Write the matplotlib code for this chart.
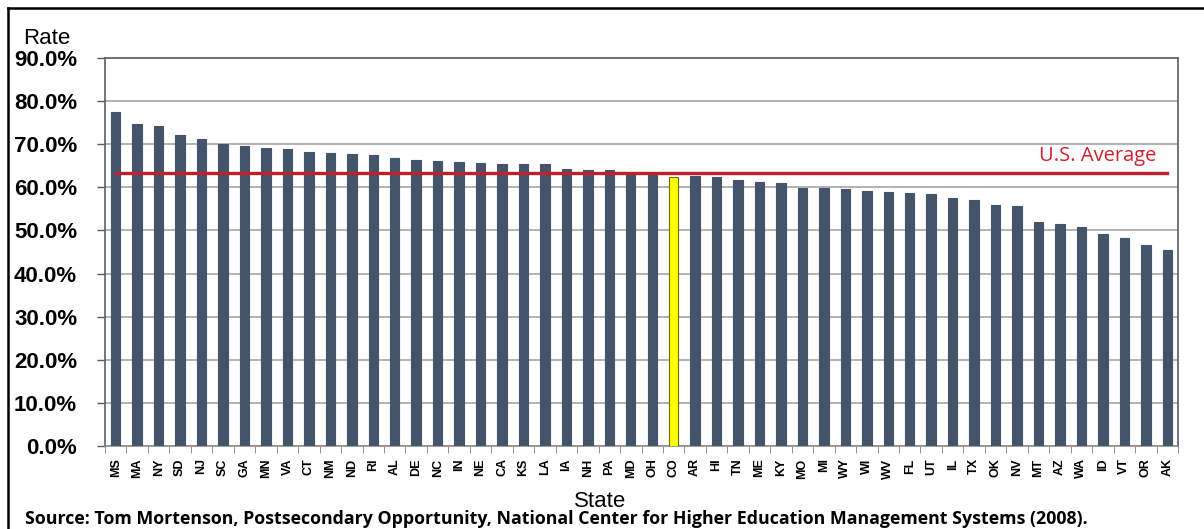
import matplotlib
matplotlib.use("Agg")
import matplotlib.pyplot as plt
from matplotlib.lines import Line2D
from matplotlib.ticker import FixedLocator, PercentFormatter

states = ["MS", "MA", "NY", "SD", "NJ", "SC", "GA", "MN", "VA", "CT", "NM", "ND", "RI",
          "AL", "DE", "NC", "IN", "NE", "CA", "KS", "LA", "IA", "NH", "PA", "MD", "OH",
          "CO", "AR", "HI", "TN", "ME", "KY", "MO", "MI", "WY", "WI", "WV", "FL", "UT",
          "IL", "TX", "OK", "NV", "MT", "AZ", "WA", "ID", "VT", "OR", "AK"]
rates = [77.5, 74.8, 74.2, 72.2, 71.2, 70.1, 69.7, 69.1, 68.9, 68.2, 68.0, 67.7, 67.4,
         66.9, 66.4, 66.1, 65.9, 65.6, 65.4, 65.4, 65.4, 64.3, 64.1, 64.1, 63.3, 62.8,
         62.5, 62.6, 62.3, 61.6, 61.3, 61.0, 59.9, 59.9, 59.5, 59.2, 59.0, 58.8, 58.5,
         57.5, 57.0, 56.0, 55.7, 51.9, 51.4, 50.7, 49.1, 48.3, 46.6, 45.5]
highlight = "CO"
us_average = 63.3
y_ticks = [0, 10, 20, 30, 40, 50, 60, 70, 80, 90]

W, H = 1204, 529
fig = plt.figure(figsize=(W / 100, H / 100), dpi=100)
ax = fig.add_axes([105 / W, 1 - 446 / H, (1178 - 105) / W, (446 - 58) / H])

bar_col = "#44546A"
colors = ["#FFFF00" if s == highlight else bar_col for s in states]
edges = ["#6b6b00" if s == highlight else bar_col for s in states]
x = list(range(len(states)))
ax.bar(x, rates, width=0.44, color=colors, edgecolor=edges, linewidth=0.8, zorder=3)

ax.plot([0, len(states) - 1], [us_average, us_average], color="#C0202A", lw=2.4, zorder=4)
ax.text(len(states) - 1.5, us_average + 1.6, "U.S. Average", color="#D0202E",
        fontsize=14.5, family=["Open Sans", "DejaVu Sans"], ha="right", va="bottom", zorder=5)

ax.set_xlim(-0.5, len(states) - 0.5)
ax.set_ylim(0, 90)
ax.yaxis.set_major_locator(FixedLocator(y_ticks))
ax.yaxis.set_major_formatter(PercentFormatter(decimals=1))
ax.grid(axis="y", color="#A6A6A6", lw=1.2, zorder=0)
ax.set_axisbelow(True)

ax.set_xticks(x)
ax.set_xticklabels(states, rotation=90, fontsize=9, fontweight="bold",
                   family=["Liberation Sans", "DejaVu Sans"])
ax.set_xticks([i - 0.5 for i in range(len(states) + 1)], minor=True)
ax.tick_params(axis="x", which="major", length=0, pad=9)
ax.tick_params(axis="x", which="minor", length=5, color="#7F7F7F", direction="out")
ax.tick_params(axis="y", length=6, width=1, color="#595959", pad=14)
for lab in ax.get_yticklabels():
    lab.set_family(["Liberation Sans", "DejaVu Sans"])
    lab.set_fontweight("bold")
    lab.set_fontsize(16)

for side in ["left", "right", "top", "bottom"]:
    ax.spines[side].set_color("#595F6B")
    ax.spines[side].set_linewidth(1.2)
ax.spines["bottom"].set_color("#8C8C8C")

narrow = ["Liberation Sans", "DejaVu Sans"]
fig.text(47 / W, 1 - 44 / H, "Rate", fontsize=16, family=narrow, ha="center", va="baseline")
fig.text(600 / W, 1 - 507 / H, "State", fontsize=16, family=narrow, ha="center", va="baseline")
fig.text(25 / W, 1 - 524 / H,
         "Source: Tom Mortenson, Postsecondary Opportunity, National Center for Higher Education Management Systems (2008).",
         fontsize=12.8, fontweight="bold", family=["Open Sans", "DejaVu Sans"], ha="left", va="baseline")

# frame lines
fig.add_artist(Line2D([8 / W, 1], [1 - 8 / H, 1 - 8 / H], color="black", lw=1.8, transform=fig.transFigure))
fig.add_artist(Line2D([8 / W, 8 / W], [0, 1 - 8 / H], color="black", lw=1.8, transform=fig.transFigure))

fig.savefig("out.png", dpi=100)
